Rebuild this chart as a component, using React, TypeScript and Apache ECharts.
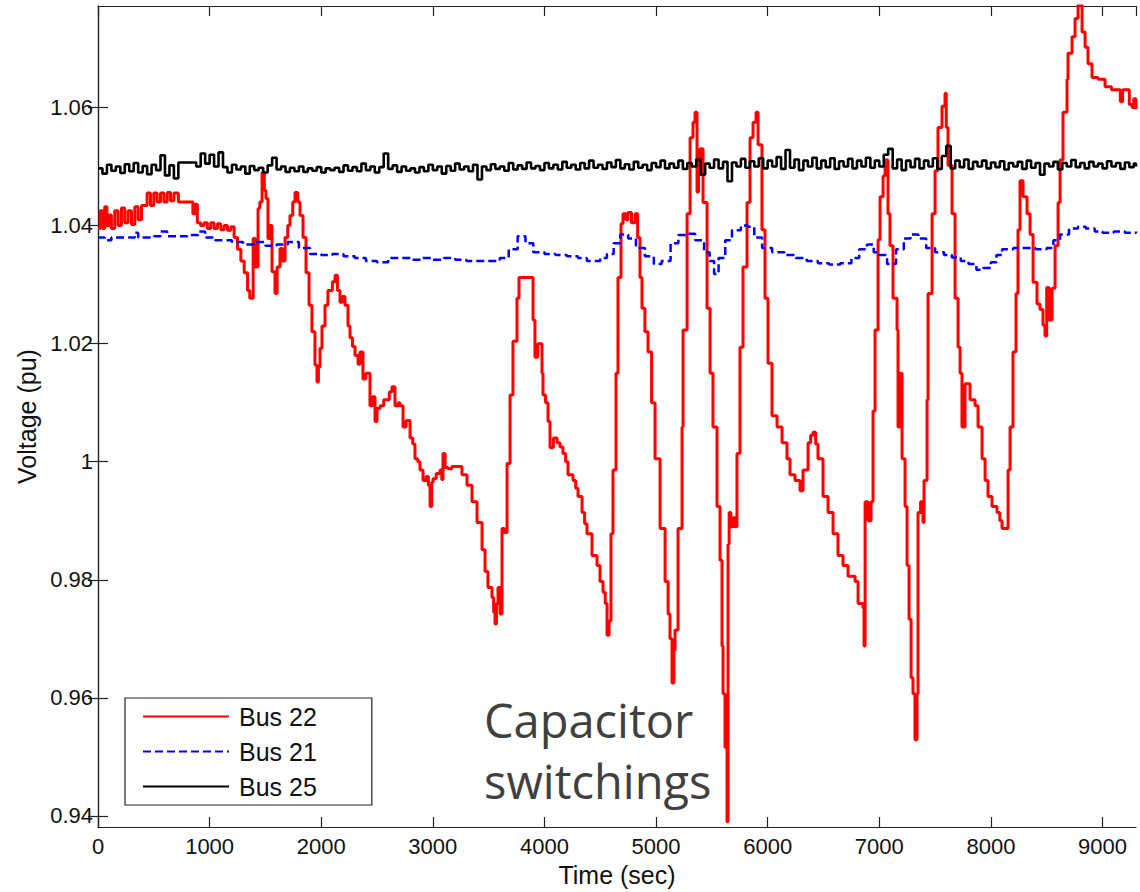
import React, { useEffect, useRef } from "react";
import * as echarts from "echarts";

const seriesNames = ["Bus 22", "Bus 21", "Bus 25"];
const yTickValues = [0.94, 0.96, 0.98, 1.0, 1.02, 1.04, 1.06];
const xTickStep = 1000;
const annotationLines = ["Capacitor", "switchings"];

const bus22: [number, number][] = [
  [0,1.0395],[20,1.0425],[40,1.0395],[60,1.0432],[80,1.0400],[100,1.0418],[120,1.0395],[150,1.0425],[180,1.0400],[210,1.0430],[240,1.0405],[270,1.0425],[300,1.0402],[330,1.0432],[360,1.0410],[390,1.0434],[420,1.0434],[440,1.0455],[470,1.0434],[500,1.0455],[530,1.0440],[560,1.0455],[590,1.0440],[620,1.0456],[650,1.0442],[680,1.0455],[720,1.0440],[780,1.0440],[830,1.0440],[850,1.0420],[870,1.0436],[890,1.0405],[920,1.0400],[950,1.0405],[980,1.0395],[1010,1.0405],[1040,1.0395],[1070,1.0403],[1100,1.0393],[1130,1.0400],[1160,1.0392],[1190,1.0398],[1220,1.0380],[1250,1.0360],[1280,1.0340],[1310,1.0320],[1340,1.0290],[1360,1.0277],[1390,1.0378],[1410,1.0330],[1434,1.0429],[1450,1.0440],[1470,1.0490],[1490,1.0460],[1505,1.0446],[1523,1.0378],[1540,1.0400],[1559,1.0322],[1586,1.0285],[1605,1.0330],[1631,1.0361],[1650,1.0340],[1676,1.0380],[1700,1.0400],[1720,1.0417],[1745,1.0440],[1765,1.0456],[1790,1.0440],[1810,1.0417],[1837,1.0380],[1864,1.0320],[1891,1.0265],[1917,1.0220],[1944,1.0164],[1962,1.0135],[1975,1.0160],[1989,1.0192],[2007,1.0230],[2034,1.0265],[2060,1.0290],[2079,1.0290],[2100,1.0305],[2124,1.0316],[2145,1.0290],[2168,1.0270],[2190,1.0280],[2213,1.0265],[2240,1.0230],[2258,1.0210],[2280,1.0195],[2303,1.0180],[2330,1.0165],[2348,1.0186],[2374,1.0140],[2400,1.0150],[2419,1.0150],[2437,1.0095],[2460,1.0110],[2482,1.0068],[2500,1.0090],[2527,1.0095],[2560,1.0105],[2589,1.0105],[2610,1.0118],[2634,1.0127],[2661,1.0095],[2690,1.0100],[2706,1.0095],[2733,1.0059],[2760,1.0070],[2796,1.0040],[2820,1.0030],[2840,1.0005],[2865,1.0000],[2885,0.9986],[2912,0.9968],[2940,0.9975],[2960,0.9960],[2975,0.9924],[2990,0.9965],[3002,0.9971],[3030,0.9980],[3064,0.9986],[3080,0.9970],[3091,1.0014],[3110,0.9990],[3136,0.9988],[3170,0.9992],[3217,0.9992],[3261,0.9978],[3306,0.9960],[3351,0.9932],[3396,0.9897],[3441,0.9851],[3468,0.9814],[3494,0.9787],[3530,0.9770],[3545,0.9745],[3557,0.9725],[3570,0.9760],[3584,0.9787],[3602,0.9742],[3620,0.9887],[3640,0.9880],[3665,0.9997],[3692,1.0113],[3718,1.0204],[3754,1.0277],[3772,1.0312],[3889,1.0312],[3898,1.0240],[3915,1.0177],[3940,1.0200],[3978,1.0150],[3987,1.0113],[4010,1.0100],[4032,1.0068],[4050,1.0024],[4080,1.0040],[4113,1.0032],[4140,1.0025],[4166,1.0014],[4190,1.0000],[4211,0.9978],[4256,0.9968],[4280,0.9955],[4301,0.9941],[4337,0.9914],[4360,0.9895],[4381,0.9878],[4426,0.9841],[4471,0.9824],[4498,0.9797],[4525,0.9779],[4545,0.9760],[4561,0.9706],[4579,0.9730],[4596,0.9878],[4614,0.9986],[4641,1.0150],[4659,1.0312],[4686,1.0403],[4704,1.0420],[4730,1.0410],[4749,1.0422],[4780,1.0405],[4812,1.0420],[4835,1.0380],[4856,1.0312],[4874,1.0260],[4900,1.0220],[4928,1.0186],[4960,1.0100],[4991,1.0005],[5036,0.9887],[5081,0.9797],[5108,0.9742],[5125,0.9700],[5143,0.9625],[5160,0.9680],[5170,0.9715],[5197,0.9887],[5233,1.0059],[5242,1.0223],[5278,1.0420],[5305,1.0549],[5331,1.0575],[5349,1.0592],[5367,1.0457],[5380,1.0500],[5394,1.0530],[5421,1.0439],[5457,1.0260],[5484,1.0150],[5510,1.0059],[5546,0.9924],[5573,0.9833],[5591,0.9688],[5600,0.9607],[5618,0.9516],[5636,0.9390],[5645,0.9860],[5655,0.9914],[5670,0.9890],[5690,0.9905],[5708,0.9890],[5725,1.0014],[5752,1.0194],[5779,1.0330],[5815,1.0439],[5842,1.0549],[5869,1.0575],[5896,1.0592],[5914,1.0537],[5949,1.0393],[5976,1.0277],[6003,1.0167],[6039,1.0078],[6084,1.0059],[6129,1.0032],[6173,1.0005],[6200,0.9978],[6245,0.9968],[6290,0.9951],[6317,0.9986],[6362,1.0032],[6385,1.0045],[6406,1.0050],[6430,1.0030],[6451,1.0005],[6496,0.9941],[6541,0.9914],[6586,0.9878],[6630,0.9841],[6675,0.9824],[6720,0.9806],[6783,0.9797],[6810,0.9760],[6854,0.9752],[6863,0.9688],[6873,0.9932],[6900,0.9900],[6926,0.9932],[6944,1.0086],[6962,1.0223],[6989,1.0376],[7007,1.0449],[7034,1.0484],[7052,1.0511],[7078,1.0420],[7096,1.0366],[7123,1.0277],[7159,1.0223],[7168,1.0059],[7185,1.0150],[7204,1.0005],[7231,0.9924],[7249,0.9824],[7267,0.9733],[7285,0.9634],[7302,0.9607],[7320,0.9529],[7338,0.9607],[7347,0.9914],[7370,0.9932],[7392,0.9897],[7401,0.9968],[7428,1.0105],[7437,1.0285],[7473,1.0420],[7500,1.0493],[7526,1.0566],[7562,1.0602],[7589,1.0624],[7600,1.0566],[7616,1.0502],[7652,1.0420],[7679,1.0277],[7706,1.0194],[7724,1.0150],[7741,1.0059],[7768,1.0132],[7813,1.0105],[7858,1.0095],[7885,1.0059],[7921,1.0005],[7948,0.9968],[7974,0.9941],[8010,0.9924],[8055,0.9914],[8080,0.9900],[8100,0.9887],[8127,0.9887],[8154,0.9986],[8172,1.0059],[8198,1.0186],[8225,1.0285],[8243,1.0393],[8261,1.0476],[8288,1.0449],[8324,1.0420],[8351,1.0385],[8378,1.0304],[8413,1.0267],[8440,1.0258],[8467,1.0231],[8485,1.0213],[8500,1.0295],[8521,1.0240],[8548,1.0294],[8575,1.0366],[8602,1.0439],[8620,1.0511],[8646,1.0592],[8682,1.0648],[8691,1.0692],[8727,1.0720],[8754,1.0751],[8781,1.0774],[8817,1.0728],[8844,1.0702],[8870,1.0674],[8906,1.0651],[8960,1.0648],[9023,1.0635],[9080,1.0630],[9139,1.0630],[9160,1.0610],[9180,1.0630],[9210,1.0630],[9240,1.0605],[9265,1.0600],[9280,1.0615],[9300,1.0597]
];

const bus21: [number, number][] = [
  [0,1.0380],[60,1.0375],[120,1.0380],[300,1.0380],[330,1.0388],[360,1.0380],[500,1.0382],[560,1.0390],[620,1.0382],[800,1.0384],[900,1.0390],[960,1.0380],[1050,1.0375],[1200,1.0372],[1300,1.0368],[1400,1.0372],[1500,1.0366],[1600,1.0368],[1700,1.0372],[1800,1.0362],[1900,1.0352],[2000,1.0350],[2100,1.0352],[2200,1.0348],[2300,1.0345],[2400,1.0340],[2500,1.0338],[2600,1.0345],[2700,1.0345],[2800,1.0342],[2900,1.0345],[3000,1.0342],[3100,1.0345],[3200,1.0342],[3300,1.0340],[3400,1.0340],[3500,1.0340],[3600,1.0345],[3680,1.0360],[3760,1.0382],[3830,1.0370],[3900,1.0355],[4000,1.0352],[4100,1.0350],[4200,1.0348],[4300,1.0345],[4380,1.0340],[4450,1.0340],[4500,1.0345],[4560,1.0352],[4620,1.0370],[4680,1.0385],[4750,1.0378],[4820,1.0362],[4900,1.0348],[4980,1.0335],[5050,1.0340],[5130,1.0370],[5200,1.0384],[5280,1.0386],[5350,1.0375],[5430,1.0355],[5480,1.0340],[5520,1.0318],[5560,1.0345],[5620,1.0375],[5680,1.0392],[5760,1.0400],[5820,1.0398],[5880,1.0380],[5950,1.0362],[6040,1.0355],[6150,1.0350],[6250,1.0345],[6350,1.0340],[6450,1.0336],[6550,1.0334],[6650,1.0336],[6750,1.0345],[6820,1.0360],[6890,1.0368],[6950,1.0355],[7000,1.0350],[7070,1.0335],[7150,1.0360],[7220,1.0378],[7280,1.0385],[7350,1.0378],[7420,1.0362],[7500,1.0355],[7580,1.0350],[7650,1.0346],[7730,1.0340],[7800,1.0335],[7870,1.0325],[7930,1.0328],[8000,1.0338],[8050,1.0350],[8100,1.0360],[8200,1.0362],[8300,1.0362],[8400,1.0360],[8500,1.0362],[8560,1.0375],[8620,1.0385],[8700,1.0395],[8780,1.0398],[8850,1.0395],[8930,1.0390],[9000,1.0388],[9100,1.0390],[9200,1.0388],[9300,1.0390]
];

const bus25: [number, number][] = [
  [0,1.0497],[40,1.0488],[80,1.0503],[120,1.0493],[160,1.0500],[200,1.0489],[240,1.0504],[280,1.0492],[320,1.0506],[360,1.0490],[400,1.0501],[440,1.0487],[480,1.0503],[520,1.0494],[560,1.0519],[600,1.0485],[640,1.0502],[680,1.0480],[720,1.0507],[880,1.0500],[920,1.0522],[960,1.0505],[1000,1.0520],[1040,1.0500],[1080,1.0524],[1120,1.0499],[1160,1.0490],[1200,1.0503],[1240,1.0495],[1280,1.0500],[1320,1.0488],[1360,1.0501],[1400,1.0494],[1440,1.0498],[1480,1.0490],[1520,1.0502],[1560,1.0515],[1600,1.0495],[1640,1.0500],[1680,1.0491],[1720,1.0498],[1760,1.0492],[1800,1.0500],[1840,1.0491],[1880,1.0497],[1920,1.0493],[1960,1.0499],[2000,1.0490],[2040,1.0497],[2080,1.0494],[2120,1.0498],[2160,1.0491],[2200,1.0502],[2240,1.0493],[2280,1.0499],[2320,1.0492],[2360,1.0505],[2400,1.0494],[2440,1.0500],[2480,1.0490],[2520,1.0499],[2560,1.0522],[2600,1.0496],[2640,1.0502],[2680,1.0491],[2720,1.0500],[2760,1.0493],[2800,1.0497],[2840,1.0490],[2880,1.0499],[2920,1.0492],[2960,1.0503],[3000,1.0494],[3040,1.0500],[3080,1.0488],[3120,1.0501],[3160,1.0493],[3200,1.0505],[3240,1.0495],[3280,1.0500],[3320,1.0492],[3360,1.0503],[3400,1.0478],[3440,1.0500],[3480,1.0494],[3520,1.0504],[3560,1.0496],[3600,1.0500],[3640,1.0493],[3680,1.0506],[3720,1.0495],[3760,1.0502],[3800,1.0496],[3840,1.0507],[3880,1.0497],[3920,1.0501],[3960,1.0494],[4000,1.0506],[4040,1.0497],[4080,1.0503],[4120,1.0495],[4160,1.0508],[4200,1.0498],[4240,1.0503],[4280,1.0495],[4320,1.0506],[4360,1.0497],[4400,1.0510],[4440,1.0498],[4480,1.0503],[4520,1.0496],[4560,1.0507],[4600,1.0499],[4640,1.0511],[4680,1.0497],[4720,1.0504],[4760,1.0495],[4800,1.0508],[4840,1.0498],[4880,1.0503],[4920,1.0494],[4960,1.0506],[5000,1.0499],[5040,1.0510],[5080,1.0497],[5120,1.0505],[5160,1.0498],[5200,1.0510],[5240,1.0496],[5280,1.0506],[5320,1.0500],[5360,1.0512],[5400,1.0486],[5440,1.0505],[5480,1.0498],[5520,1.0512],[5560,1.0497],[5600,1.0508],[5640,1.0475],[5680,1.0507],[5720,1.0500],[5760,1.0513],[5800,1.0498],[5840,1.0509],[5880,1.0500],[5920,1.0514],[5960,1.0497],[6000,1.0510],[6040,1.0500],[6080,1.0516],[6120,1.0496],[6160,1.0528],[6200,1.0498],[6240,1.0512],[6280,1.0494],[6320,1.0510],[6360,1.0500],[6400,1.0515],[6440,1.0497],[6480,1.0510],[6520,1.0499],[6560,1.0514],[6600,1.0496],[6640,1.0509],[6680,1.0500],[6720,1.0513],[6760,1.0497],[6800,1.0510],[6840,1.0500],[6880,1.0515],[6920,1.0498],[6960,1.0510],[7000,1.0500],[7040,1.0520],[7080,1.0530],[7120,1.0497],[7160,1.0512],[7200,1.0494],[7240,1.0510],[7280,1.0499],[7320,1.0513],[7360,1.0497],[7400,1.0510],[7440,1.0500],[7480,1.0514],[7520,1.0496],[7560,1.0518],[7600,1.0535],[7640,1.0497],[7680,1.0510],[7720,1.0499],[7760,1.0512],[7800,1.0496],[7840,1.0508],[7880,1.0500],[7920,1.0510],[7960,1.0497],[8000,1.0507],[8040,1.0499],[8080,1.0509],[8120,1.0495],[8160,1.0506],[8200,1.0500],[8240,1.0508],[8280,1.0496],[8320,1.0510],[8360,1.0498],[8400,1.0506],[8440,1.0486],[8480,1.0505],[8520,1.0500],[8560,1.0508],[8600,1.0495],[8640,1.0506],[8680,1.0500],[8720,1.0511],[8760,1.0499],[8800,1.0506],[8840,1.0497],[8880,1.0508],[8920,1.0500],[8960,1.0505],[9000,1.0497],[9040,1.0509],[9080,1.0500],[9120,1.0506],[9160,1.0496],[9200,1.0507],[9240,1.0499],[9280,1.0505],[9300,1.0500]
];

const X_MIN = 0;
const X_MAX = 9300;
const Y_MIN = 0.9381;
const Y_MAX = 1.0772;

const FONT = "'Liberation Sans', Arial, Helvetica, sans-serif";

export default function App() {
  const ref = useRef<HTMLDivElement>(null);
  useEffect(() => {
    if (!ref.current) return;
    const chart = echarts.init(ref.current, undefined, { renderer: "svg" });
    const axisLineStyle = { color: "#222", width: 1.2 };
    const fmtY = (v: number) => String(+(+v).toFixed(2));
    const fmtX = (v: number) => String(Math.round(v));
    const tickCommon = { show: true, inside: true, length: 10, lineStyle: { color: "#222", width: 1.2 } };
    const option: any = {
      animation: false,
      backgroundColor: "#fff",
      grid: { left: 98, right: 4, top: 6, bottom: 62, containLabel: false },
      legend: {
        orient: "vertical",
        left: 125,
        top: 698,
        data: seriesNames,
        itemWidth: 86,
        itemHeight: 14,
        itemGap: 10,
        padding: [6, 55, 6, 17],
        borderColor: "#222",
        borderWidth: 1.2,
        backgroundColor: "#fff",
        selectedMode: false,
        itemStyle: { opacity: 0 },
        textStyle: { fontSize: 25, lineHeight: 25, fontFamily: FONT, color: "#111", padding: [0, 0, 0, 5] },
      },
      xAxis: [
        {
          type: "value",
          position: "bottom",
          min: X_MIN,
          max: X_MAX,
          interval: xTickStep,
          name: "Time (sec)",
          nameLocation: "middle",
          nameGap: 34,
          nameTextStyle: { fontSize: 25, fontFamily: FONT, color: "#111" },
          axisLine: { show: true, lineStyle: axisLineStyle },
          axisTick: tickCommon,
          axisLabel: { fontSize: 22, fontFamily: FONT, color: "#111", margin: 8, showMaxLabel: false, formatter: fmtX },
          splitLine: { show: false },
        },
        {
          type: "value",
          position: "top",
          min: X_MIN,
          max: X_MAX,
          interval: xTickStep,
          axisLine: { show: true, lineStyle: axisLineStyle },
          axisTick: tickCommon,
          axisLabel: { show: false },
          splitLine: { show: false },
        },
      ],
      yAxis: [
        {
          type: "value",
          position: "left",
          min: Y_MIN,
          max: Y_MAX,
          name: "Voltage (pu)",
          nameLocation: "middle",
          nameRotate: 90,
          nameGap: 57,
          nameTextStyle: { fontSize: 25, fontFamily: FONT, color: "#111" },
          axisLine: { show: true, lineStyle: axisLineStyle },
          axisTick: { ...tickCommon, customValues: yTickValues },
          axisLabel: { fontSize: 22, fontFamily: FONT, color: "#111", margin: 5, customValues: yTickValues, formatter: fmtY },
          splitLine: { show: false },
        },
        {
          type: "value",
          position: "right",
          min: Y_MIN,
          max: Y_MAX,
          axisLine: { show: true, lineStyle: axisLineStyle },
          axisTick: { ...tickCommon, customValues: yTickValues },
          axisLabel: { show: false, customValues: yTickValues },
          splitLine: { show: false },
        },
      ],
      series: [
        {
          name: seriesNames[0],
          type: "line",
          step: "end",
          symbol: "none",
          data: bus22,
          lineStyle: { color: "#ff0000", width: 3 },
          itemStyle: { color: "#ff0000" },
          z: 2,
        },
        {
          name: seriesNames[1],
          type: "line",
          step: "end",
          symbol: "none",
          data: bus21,
          lineStyle: { color: "#0000ff", width: 2.5, type: [8, 4] },
          itemStyle: { color: "#0000ff" },
          z: 3,
        },
        {
          name: seriesNames[2],
          type: "line",
          step: "end",
          symbol: "none",
          data: bus25,
          lineStyle: { color: "#000000", width: 2.6 },
          itemStyle: { color: "#000000" },
          z: 4,
        },
      ],
      graphic: [
        {
          type: "text",
          left: 484,
          top: 696,
          z: 100,
          style: { text: annotationLines[0], font: "47px 'Open Sans', sans-serif", fill: "#404040" },
        },
        {
          type: "text",
          left: 484,
          top: 757,
          z: 100,
          style: { text: annotationLines[1], font: "47px 'Open Sans', sans-serif", fill: "#404040" },
        },
      ],
    };
    chart.setOption(option);
    return () => chart.dispose();
  }, []);
  return (
    <div
      ref={ref}
      style={{ position: "fixed", left: 0, top: 0, width: 1140, height: 892, background: "#fff" }}
    />
  );
}
